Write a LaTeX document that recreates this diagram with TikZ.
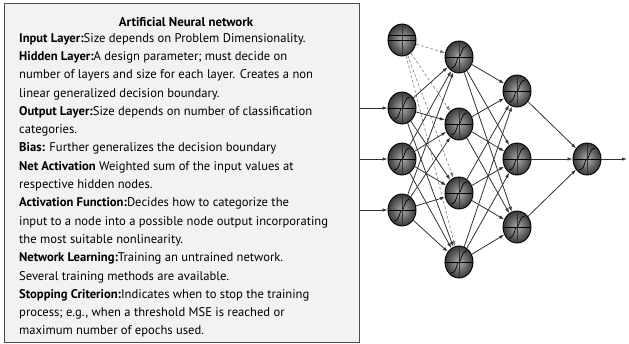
\documentclass[tikz,border=0pt]{standalone}
\usepackage{fontspec}
\setmainfont{PT Sans}
\usetikzlibrary{arrows.meta,shapes.geometric}

\tikzset{
  panel/.style={draw=black!70, line width=1.2pt, fill=gray!10, inner sep=0pt, anchor=north west},
  neuronbase/.style={ellipse, draw=black, line width=0.9pt, minimum width=28pt,
    minimum height=32pt, inner sep=0pt, shading=radial, inner color=gray!65, outer color=black!78},
  neuron/.style={neuronbase, path picture={
      \draw[line width=0.7pt] (path picture bounding box.west) -- (path picture bounding box.east);
      \draw[line width=0.5pt, black!80] (path picture bounding box.north) -- (path picture bounding box.south);
      \draw[line width=0.7pt, shift={(path picture bounding box.center)}]
        (-8pt,-11pt) .. controls (-1pt,-10pt) and (-3pt,0pt) .. (0pt,0pt)
        .. controls (3pt,0pt) and (1pt,10pt) .. (8pt,11pt);
    }},
  biasnode/.style={neuronbase, path picture={
      \draw[line width=0.7pt] (path picture bounding box.west) -- (path picture bounding box.east);
      \draw[line width=0.6pt, shift={(path picture bounding box.center)}] (-13pt,5pt) -- (13pt,5pt);
      \draw[line width=0.5pt, black!80] (path picture bounding box.north) -- (path picture bounding box.south);
    }},
  link/.style={draw=black!80, line width=0.8pt, -{Latex[length=5pt,width=3.5pt]}},
  biaslink/.style={draw=black!50, line width=0.6pt, densely dashed, -{Latex[length=5pt,width=3.5pt]}},
}

\begin{document}
\begin{tikzpicture}[x=1pt,y=-1pt]
\useasboundingbox (0,0) rectangle (629,343);

% text panel
\node[panel, minimum width=355pt, minimum height=339pt] (panel) at (4,3) {};
\node[font=\fontsize{12.8}{14}\selectfont\bfseries] (title) at (186,22) {Artificial Neural network};
\node[anchor=north west, inner sep=0pt, align=left,
      font=\fontsize{12.6}{18.3}\selectfont] (notes) at (19,33) {%
\textbf{Input Layer:}Size depends on Problem Dimensionality.\\
\textbf{Hidden Layer:}A design parameter; must decide on\\
number of layers and size for each layer. Creates a non\\
linear generalized decision boundary.\\
\textbf{Output Layer:}Size depends on number of classification\\
categories.\\
\textbf{Bias:} Further generalizes the decision boundary\\
\textbf{Net Activation} Weighted sum of the input values at\\
respective hidden nodes.\\
\textbf{Activation Function:}Decides how to categorize the\\
input to a node into a possible node output incorporating\\
the most suitable nonlinearity.\\
\textbf{Network Learning:}Training an untrained network.\\
Several training methods are available.\\
\textbf{Stopping Criterion:}Indicates when to stop the training\\
process; e.g., when a threshold MSE is reached or\\
maximum number of epochs used.};

% network nodes
\node[biasnode] (B) at (402,40) {};
\node[neuron] (I1) at (402,108) {};
\node[neuron] (I2) at (402,159) {};
\node[neuron] (I3) at (402,210) {};
\node[neuron] (H1) at (459,57) {};
\node[neuron] (H2) at (459,124) {};
\node[neuron] (H3) at (459,193) {};
\node[neuron] (H4) at (459,262) {};
\node[neuron] (G1) at (517,91) {};
\node[neuron] (G2) at (517,159) {};
\node[neuron] (G3) at (517,227) {};
\node[neuron] (O) at (587,159) {};
\coordinate (out) at (627,159);

% inputs entering from the panel
\foreach \n in {I1,I2,I3}
  \draw[link] (panel.east |- \n) -- (\n);

% bias connections
\foreach \h in {H1,H2,H3,H4}
  \draw[biaslink] (B) -- (\h);

% input layer to first hidden layer
\foreach \i in {I1,I2,I3}
  \foreach \h in {H1,H2,H3,H4}
    \draw[link] (\i) -- (\h);

% first hidden layer to second hidden layer
\foreach \h in {H1,H2,H3,H4}
  \foreach \g in {G1,G2,G3}
    \draw[link] (\h) -- (\g);

% second hidden layer to output
\foreach \g in {G1,G2,G3}
  \draw[link] (\g) -- (O);
\draw[link] (O) -- (out);
\end{tikzpicture}
\end{document}
